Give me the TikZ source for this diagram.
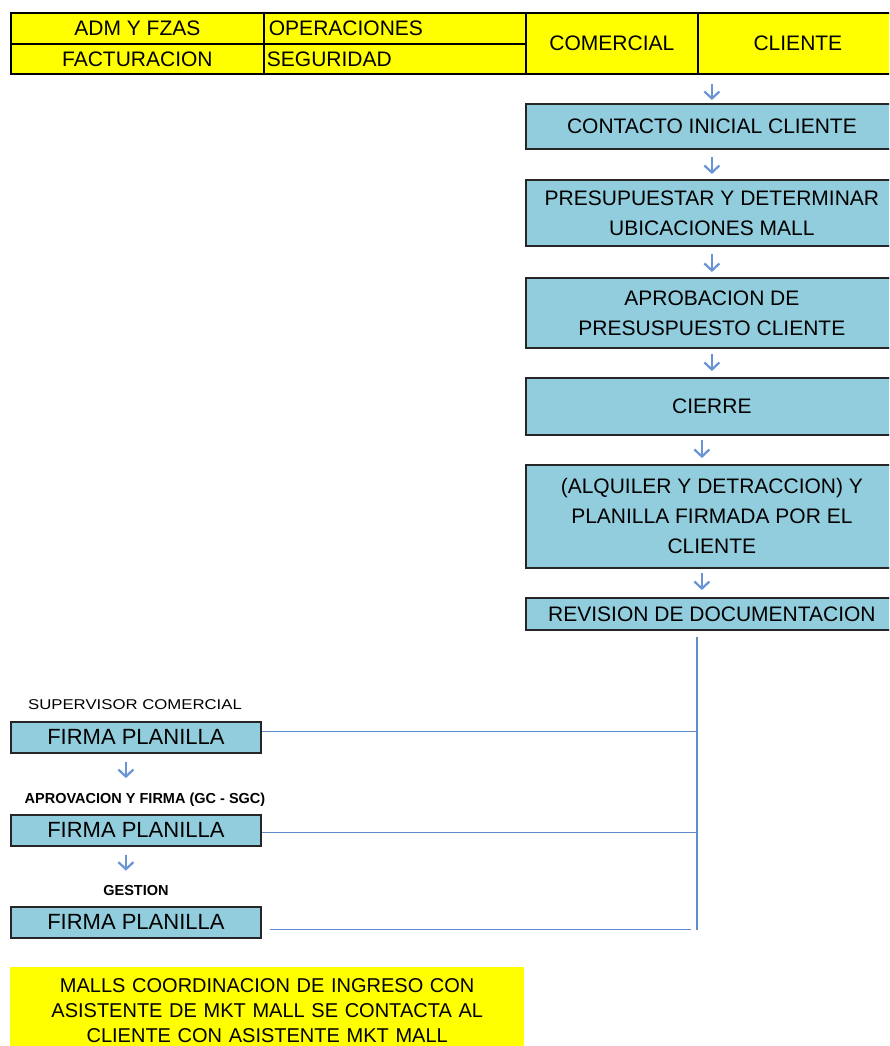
\documentclass[tikz,border=0pt]{standalone}
\usepackage{fontspec}
\setmainfont{Liberation Sans}
\newfontfamily\widefont[FakeStretch=1.18]{Liberation Sans}
\usetikzlibrary{arrows.meta}

\definecolor{boxblue}{RGB}{146,205,221}
\definecolor{hdryellow}{RGB}{255,255,0}
\definecolor{flowblue}{RGB}{104,148,212}
\definecolor{linkblue}{RGB}{96,140,204}

\tikzset{
  hdrcell/.style={draw=black, line width=1.8pt, fill=hdryellow, anchor=north west,
    inner sep=0pt, font=\fontsize{21}{25}\selectfont},
  hdrleft/.style={hdrcell, text width=#1, align=left},
  stepbox/.style={draw=black!85, line width=1.8pt, fill=boxblue, anchor=north west,
    minimum width=372pt, inner sep=0pt, align=center,
    font=\fontsize{21}{30}\selectfont},
  signbox/.style={draw=black!85, line width=1.8pt, fill=boxblue, anchor=north west,
    minimum width=250pt, minimum height=31pt, inner sep=0pt,
    font=\fontsize{22}{26}\selectfont},
  rolelabel/.style={inner sep=0pt, font=\fontsize{14.5}{17}\selectfont\bfseries},
  flow/.style={draw=flowblue, line width=2.2pt,
    -{Straight Barb[length=7pt,width=15pt,line width=2.2pt]},
    shorten <=7pt, shorten >=5pt},
  link/.style={draw=linkblue, line width=1.8pt},
  notebox/.style={fill=hdryellow, anchor=north west, text width=504pt,
    inner xsep=5pt, inner ysep=0pt, align=center,
    font=\fontsize{20}{25}\selectfont}
}

\begin{document}
\begin{tikzpicture}[x=1pt, y=-1pt]
  \useasboundingbox (0,0) rectangle (889,1046);
  \clip (0,0) rectangle (889,1046);
  \fill[white] (0,0) rectangle (889,1046);

  % header of areas
  \node[hdrcell, minimum width=253pt, minimum height=31pt] (adm) at (10,12) {ADM Y FZAS};
  \node[hdrcell, minimum width=253pt, minimum height=30pt] (fac) at (10,43) {FACTURACION};
  \node[hdrleft=252pt, inner xsep=5pt, minimum height=31pt] (ope) at (263,12) {OPERACIONES};
  \node[hdrleft=256pt, inner xsep=3pt, minimum height=30pt] (seg) at (263,43) {SEGURIDAD};
  \node[hdrcell, minimum width=172pt, minimum height=61pt] (com) at (525,12) {COMERCIAL};
  \node[hdrcell, minimum width=200pt, minimum height=61pt] (cli) at (697,12) {CLIENTE};

  % commercial process steps
  \node[stepbox, minimum height=45pt]  (c1) at (525,103) {CONTACTO INICIAL CLIENTE};
  \node[stepbox, minimum height=66pt]  (c2) at (525,179) {PRESUPUESTAR Y DETERMINAR\\UBICACIONES MALL};
  \node[stepbox, minimum height=70pt]  (c3) at (525,277) {APROBACION DE\\PRESUSPUESTO CLIENTE};
  \node[stepbox, minimum height=57pt]  (c4) at (525,377) {CIERRE};
  \node[stepbox, minimum height=103pt] (c5) at (525,464) {(ALQUILER Y DETRACCION) Y\\PLANILLA FIRMADA POR EL\\CLIENTE};
  \node[stepbox, minimum height=32pt]  (c6) at (525,597) {REVISION DE DOCUMENTACION};

  \draw[flow, shorten <=9pt, shorten >=3pt] (c1.north |- cli.south) -- (c1.north);
  \draw[flow] (c1.south) -- (c2.north);
  \draw[flow, shorten >=5pt] (c2.south) -- (c3.north);
  \draw[flow, shorten <=5pt, shorten >=6pt] (c3.south) -- (c4.north);
  \draw[flow, shorten <=4pt, shorten >=6pt] ([xshift=-10pt]c4.south) -- ([xshift=-10pt]c5.north);
  \draw[flow, shorten <=4pt, shorten >=7pt] ([xshift=-10pt]c5.south) -- ([xshift=-10pt]c6.north);

  % signatures
  \node[inner sep=0pt, font=\fontsize{14.2}{17}\widefont] (l1) at (135,705) {SUPERVISOR COMERCIAL};
  \node[signbox] (f1) at (10,721) {FIRMA PLANILLA};
  \node[rolelabel] (l2) at (145,800) {APROVACION Y FIRMA (GC - SGC)};
  \node[signbox] (f2) at (10,814) {FIRMA PLANILLA};
  \node[rolelabel] (l3) at (136,890) {GESTION};
  \node[signbox] (f3) at (10,906) {FIRMA PLANILLA};

  \draw[flow, shorten <=8pt, shorten >=15pt] ([xshift=-10pt]f1.south) -- ([xshift=-10pt]f1.south |- l2.north);
  \draw[flow, shorten <=8pt, shorten >=14pt] ([xshift=-10pt]f2.south) -- ([xshift=-10pt]f2.south |- l3.north);

  % documents routed back to the signatures
  \coordinate (bus) at (696,930);
  \draw[link, shorten <=6pt] ([xshift=-15pt]c6.south) -- ([xshift=-15pt]c6.south |- bus);
  \draw[link] ([yshift=6pt]f1.east) -- ([yshift=6pt]f1.east -| bus);
  \draw[link] ([yshift=-2pt]f2.east) -- ([yshift=-2pt]f2.east -| bus);
  \draw[link, shorten <=8pt, shorten >=5pt] ([yshift=-7pt]f3.east) -- ([yshift=-7pt]f3.east -| bus);

  % mall coordination note
  \node[notebox, minimum height=86pt] (note) at (10,967)
    {MALLS COORDINACION DE INGRESO CON\\ASISTENTE DE MKT MALL SE CONTACTA AL\\CLIENTE CON ASISTENTE MKT MALL};
\end{tikzpicture}
\end{document}
